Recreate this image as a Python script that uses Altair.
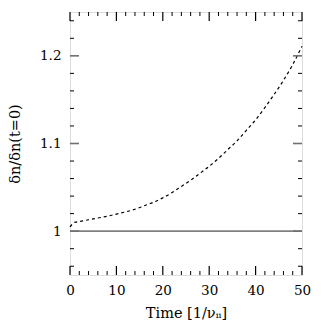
import altair as alt
import pandas as pd

# Dashed curve
t_vals = [0, 0.5, 1, 2, 4, 6, 8, 10, 12, 14, 16, 18, 20, 22, 24, 26, 28, 30,
          32, 34, 36, 38, 40, 42, 44, 46, 48, 50]
dn_vals = [1.005, 1.008, 1.010, 1.011, 1.013, 1.015, 1.017, 1.0195, 1.022, 1.025,
           1.029, 1.033, 1.038, 1.044, 1.051, 1.058, 1.066, 1.074, 1.083, 1.093,
           1.103, 1.115, 1.127, 1.141, 1.156, 1.172, 1.190, 1.211]
# Solid reference line
ref_t = [0, 50]
ref_y = [1.0, 1.0]

x_major = [0, 10, 20, 30, 40, 50]
x_minor = [2, 4, 6, 8, 12, 14, 16, 18, 22, 24, 26, 28, 32, 34, 36, 38, 42, 44, 46, 48]
y_major = [1.0, 1.1, 1.2]
y_minor = [0.96, 0.98, 1.02, 1.04, 1.06, 1.08, 1.12, 1.14, 1.16, 1.18, 1.22, 1.24]
y_labels = [1.0, 1.1, 1.2]

W, H = 232, 263
FONT = "DejaVu Serif"

xs = alt.Scale(domain=[0, 50], nice=False, zero=False)
ys = alt.Scale(domain=[0.95, 1.25], nice=False, zero=False)

curve_df = pd.DataFrame({"t": t_vals, "v": dn_vals})
ref_df = pd.DataFrame({"t": ref_t, "v": ref_y})

xaxis = alt.Axis(values=x_major, title="Time [1/νᵢᵢ]", ticks=False, domain=False, grid=False,
                 labelFont=FONT, labelFontSize=13.5, labelColor="black", labelPadding=8,
                 titleFont=FONT, titleFontSize=14.5, titleFontWeight="normal", titleColor="black",
                 titlePadding=10, labelFlush=False)
yaxis = alt.Axis(values=y_labels, title="δn/δn(t=0)", ticks=False, domain=False, grid=False,
                 labelFont=FONT, labelFontSize=13.5, labelColor="black", labelPadding=9,
                 labelExpr="datum.value == 1 ? '1' : format(datum.value, '.1f')",
                 titleFont=FONT, titleFontSize=14.5, titleFontWeight="normal", titleColor="black",
                 titlePadding=17, labelFlush=False)

curve = alt.Chart(curve_df).mark_line(color="black", strokeDash=[3, 3], strokeWidth=1.2,
                                      interpolate="monotone").encode(
    x=alt.X("t:Q", scale=xs, axis=xaxis),
    y=alt.Y("v:Q", scale=ys, axis=yaxis),
)
ref = alt.Chart(ref_df).mark_line(color="#808080", strokeWidth=1.6).encode(
    x=alt.X("t:Q", scale=xs), y=alt.Y("v:Q", scale=ys)
)

def yticks(vals, length, color, sw):
    df = pd.DataFrame({"v": vals})
    left = alt.Chart(df).mark_rule(color=color, strokeWidth=sw).encode(
        y=alt.Y("v:Q", scale=ys), x=alt.value(0), x2=alt.value(length))
    right = alt.Chart(df).mark_rule(color=color, strokeWidth=sw).encode(
        y=alt.Y("v:Q", scale=ys), x=alt.value(W), x2=alt.value(W - length))
    return [left, right]

def xticks(vals, length, color, sw):
    df = pd.DataFrame({"t": vals})
    bottom = alt.Chart(df).mark_rule(color=color, strokeWidth=sw).encode(
        x=alt.X("t:Q", scale=xs), y=alt.value(H), y2=alt.value(H - length))
    top = alt.Chart(df).mark_rule(color=color, strokeWidth=sw).encode(
        x=alt.X("t:Q", scale=xs), y=alt.value(0), y2=alt.value(length))
    return [bottom, top]

layers = [ref, curve]
layers += yticks(y_minor, 4, "black", 1)
layers += yticks(y_major, 9, "#707070", 1.6)
layers += xticks(x_minor, 4, "black", 1)
layers += xticks(x_major, 9, "black", 1.2)

chart = alt.layer(*layers).properties(
    width=W, height=H,
    autosize=alt.AutoSizeParams(type="none"),
    padding={"left": 62, "top": 4, "right": 12, "bottom": 50},
).configure_view(stroke="black", strokeWidth=1.5).configure(background="white")

chart.save("out.html", embed_options={"renderer": "svg", "actions": False})
